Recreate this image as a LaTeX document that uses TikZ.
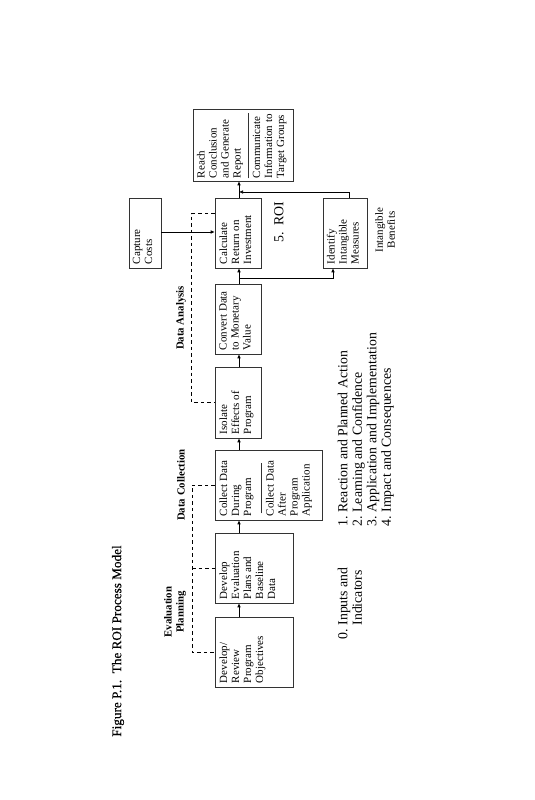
\documentclass[tikz,border=0pt]{standalone}
\usepackage{fontspec}
\setmainfont{Liberation Serif}
\newfontfamily\ttlfont[FakeBold=0.35]{Liberation Serif}
\usetikzlibrary{arrows.meta,calc}
\newcommand\bxfont{\fontsize{11}{12}\selectfont}
\newcommand\hdfont{\fontsize{10.8}{12}\selectfont\bfseries}
\newcommand\lsfont{\fontsize{13.8}{14.5}\selectfont}
\begin{document}
\begin{tikzpicture}[x=1pt,y=1pt,
  bx/.style 2 args={draw=black!80, line width=0.6pt, minimum width=#1pt, minimum height=#2pt, inner sep=0pt},
  rt/.style={rotate=90, anchor=north west, inner sep=0pt, align=left, font=\bxfont},
  hd/.style={rotate=90, inner sep=0pt, align=center, font=\hdfont},
  lst/.style={rotate=90, anchor=north west, inner sep=0pt, align=left, font=\lsfont},
  arr/.style={line width=0.6pt, -{Latex[length=4pt,width=3.6pt]}},
  dsh/.style={line width=0.6pt, dash pattern=on 3.5pt off 3pt},
  sep/.style={line width=0.6pt, black!80}]
\useasboundingbox (0,0) rectangle (535,800);
% boxes
\node[bx={78}{70}] (B1) at (254,148) {};
\node[bx={78}{70}] (B2) at (254,232) {};
\node[bx={107}{70}] (B3) at (268.5,315) {};
\node[bx={46}{71}] (B4) at (238,397.5) {};
\node[bx={46}{70}] (B5) at (238,481) {};
\node[bx={46}{70}] (B6) at (238,567) {};
\node[bx={100}{72}] (B7) at (243,655) {};
\node[bx={32}{70}] (CC) at (145,567) {};
\node[bx={44}{70}] (II) at (345,567) {};
% box texts
\node[rt] (t1) at ($(B1.south west)+(4.5,4)$) {Develop/\\Review\\Program\\Objectives};
\node[rt] (t2) at ($(B2.south west)+(4.5,4)$) {Develop\\Evaluation\\Plans and\\Baseline\\Data};
\node[rt] (t3a) at ($(B3.south west)+(4.5,4)$) {Collect Data\\During\\Program};
\node[rt] (t3b) at ($(B3.south west)+(51,4)$) {Collect Data\\After\\Program\\Application};
\node[rt] (t4) at ($(B4.south west)+(4.5,4)$) {Isolate\\Effects of\\Program};
\node[rt] (t5) at ($(B5.south west)+(4.5,4)$) {Convert Data\\to Monetary\\Value};
\node[rt] (t6) at ($(B6.south west)+(4.5,4)$) {Calculate\\Return on\\Investment};
\node[rt] (t7a) at ($(B7.south west)+(4,3)$) {Reach\\Conclusion\\and Generate\\Report};
\node[rt] (t7b) at ($(B7.south west)+(60,3)$) {Communicate\\Information to\\Target Groups};
\node[rt] (tc) at ($(CC.south west)+(4,4)$) {Capture\\Costs};
\node[rt] (ti) at ($(II.south west)+(4,4)$) {Identify\\Intangible\\Measures};
% separators
\draw[sep] ($(B3.south west)+(47,7)$) -- ($(B3.south west)+(47,57)$);
\draw[sep] ($(B7.south west)+(56,3)$) -- ($(B7.south west)+(56,68)$);
% labels
\node[rotate=90, font=\ttlfont\fontsize{13.2}{15}\selectfont] (title) at (118,159) {Figure P.1.\ \ The ROI Process Model};
\node[hd] (lEP) at (175,188) {Evaluation\\Planning};
\node[hd] (lDC) at (181,315) {Data Collection};
\node[hd] (lDA) at (181,482) {Data Analysis};
\node[rotate=90, inner sep=0pt, font=\lsfont] (roi) at (279,578) {5.\ \ ROI};
\node[rotate=90, inner sep=0pt, align=center, font=\bxfont] (ib) at (385,570) {Intangible\\Benefits};
\node[lst] (L0) at (337,160) {\begin{tabular}{@{}l@{\hspace{4pt}}l@{}}0. & Inputs and\\ & Indicators\end{tabular}};
\node[lst] (L1) at (337,273) {\begin{tabular}{@{}l@{\hspace{4pt}}l@{}}1. & Reaction and Planned Action\\2. & Learning and Confidence\\3. & Application and Implementation\\4. & Impact and Consequences\end{tabular}};
% connectors
\coordinate (ax) at (239,0);
\coordinate (cy) at (0,568);
\coordinate (br) at (239,522);
\coordinate (ix) at (333,0);
\coordinate (ox) at (349,0);
\coordinate (oy) at (0,608);
\coordinate (dx) at (192,0);
\draw[arr] (B1.north -| ax) -- (B2.south -| ax);
\draw[arr] (B2.north -| ax) -- (B3.south -| ax);
\draw[arr] (B3.north -| ax) -- (B4.south -| ax);
\draw[arr] (B4.north -| ax) -- (B5.south -| ax);
\draw[arr] (B5.north -| ax) -- (B6.south -| ax);
\draw[arr] (B6.north -| ax) -- (B7.south -| ax);
\draw[arr] (CC.east |- cy) -- (B6.west |- cy);
\draw[arr] (br) -| (II.south -| ix);
\draw[arr] (II.north -| ox) |- (ax |- oy);
% dashed brackets
\draw[dsh] ($(B6.north west)+(0,-16)$) -- ++(-23,0) |- (B4.west);
\draw[dsh] (B3.west) -| (dx |- B1.west) -- (B1.west);
\draw[dsh] (dx |- B2.west) -- (B2.west);
\end{tikzpicture}
\end{document}
